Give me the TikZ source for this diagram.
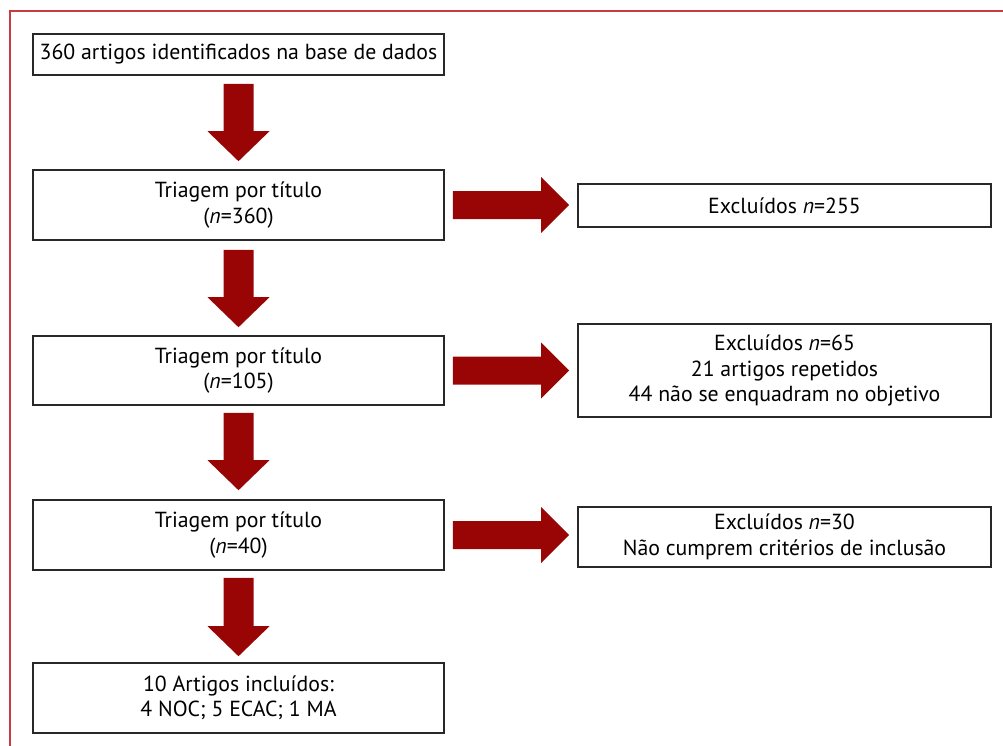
\documentclass[tikz,border=0pt]{standalone}
\usepackage{fontspec}
\setmainfont{PT Sans}
\usetikzlibrary{calc}
\definecolor{arrred}{RGB}{153,5,5}
\definecolor{framered}{RGB}{200,60,65}
\definecolor{boxline}{RGB}{40,40,40}
\tikzset{
  box/.style={draw=boxline, line width=1.6pt, minimum width=411pt, align=center, inner sep=0pt, font=\fontsize{21.8}{25.5}\selectfont},
  exbox/.style={box, minimum width=413pt},
  arr/.style={fill=arrred, draw=none},
}
\newcommand\vfat[2]{\fill[arr] ($(#1)+(-15,0)$) -- ($(#2)+(-15,-30)$) -- ($(#2)+(-31,-30)$) -- (#2) -- ($(#2)+(31,-30)$) -- ($(#2)+(15,-30)$) -- ($(#1)+(15,0)$) -- cycle;}
\newcommand\hfat[2]{\fill[arr] ($(#1)+(0,-14)$) -- ($(#2)+(-28,-14)$) -- ($(#2)+(-28,-28)$) -- (#2) -- ($(#2)+(-28,28)$) -- ($(#2)+(-28,14)$) -- ($(#1)+(0,14)$) -- cycle;}
\begin{document}
\begin{tikzpicture}[x=1pt,y=-1pt]
\useasboundingbox (0,0) rectangle (1003,745);
\begin{scope}
\clip (0,0) rectangle (1003,745);
\draw[framered, line width=1.8pt] (10,11) rectangle (1030,780);
\end{scope}
% left column
\node[box, minimum height=41pt] (b1) at (238.5,54.5) {360 artigos identificados na base de dados};
\node[box, minimum height=70pt] (b2) at (238.5,205) {Triagem por título\\(\textit{n}=360)};
\node[box, minimum height=69pt] (b3) at (238.5,370.5) {Triagem por título\\(\textit{n}=105)};
\node[box, minimum height=70pt] (b4) at (238.5,535) {Triagem por título\\(\textit{n}=40)};
\node[box, minimum height=70pt] (b5) at (238.5,698) {10 Artigos incluídos:\\4 NOC; 5 ECAC; 1 MA};
% right column
\node[exbox, minimum height=43pt] (e1) at (784.5,205.5) {Excluídos \textit{n}=255};
\node[exbox, minimum height=93pt] (e2) at (784.5,370.5) {Excluídos \textit{n}=65\\21 artigos repetidos\\44 não se enquadram no objetivo};
\node[exbox, minimum height=60pt] (e3) at (784.5,537) {Excluídos \textit{n}=30\\Não cumprem critérios de inclusão};
% down arrows
\coordinate (d1s) at ($(b1.south)+(0,8)$);
\coordinate (d1e) at ($(b2.north)+(0,-8)$);
\coordinate (d2s) at ($(b2.south)+(0,9)$);
\coordinate (d2e) at ($(b3.north)+(0,-8)$);
\coordinate (d3s) at ($(b3.south)+(0,7)$);
\coordinate (d3e) at ($(b4.north)+(0,-9)$);
\coordinate (d4s) at ($(b4.south)+(0,7)$);
\coordinate (d4e) at ($(b5.north)+(0,-6)$);
\vfat{d1s}{d1e}
\vfat{d2s}{d2e}
\vfat{d3s}{d3e}
\vfat{d4s}{d4e}
% right arrows
\coordinate (h1s) at ($(b2.east)+(8,0)$);
\coordinate (h1e) at ($(b2.east-|e1.west)+(-8,0)$);
\coordinate (h2s) at ($(b3.east)+(8,0)$);
\coordinate (h2e) at ($(b3.east-|e2.west)+(-8,0)$);
\coordinate (h3s) at ($(b4.east)+(8,0)$);
\coordinate (h3e) at ($(b4.east-|e3.west)+(-8,0)$);
\hfat{h1s}{h1e}
\hfat{h2s}{h2e}
\hfat{h3s}{h3e}
\end{tikzpicture}
\end{document}
